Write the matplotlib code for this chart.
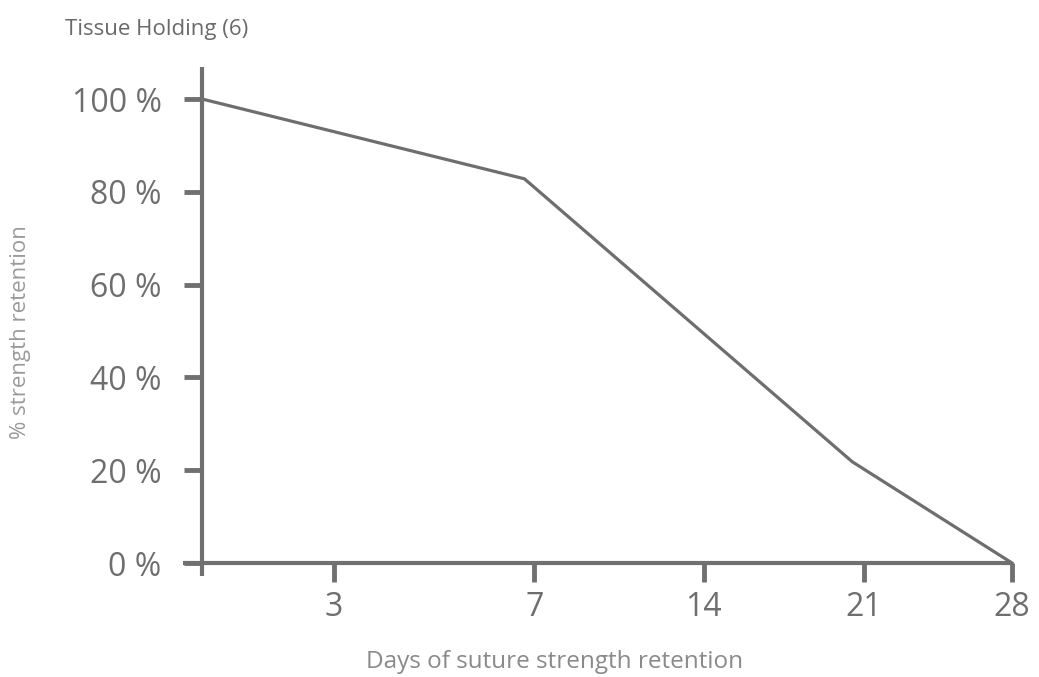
import matplotlib
matplotlib.use("Agg")
import matplotlib.pyplot as plt
import numpy as np

# values
days = [0, 6.8, 20.5, 28]
retention = [100, 82.8, 21.8, 0]
day_ticks = [3, 7, 14, 21, 28]
pct_ticks = [0, 20, 40, 60, 80, 100]

# the day axis is not linear in the original: anchor days -> display position
anchor_days = [-3, 0, 3, 7, 14, 21, 28]
anchor_pos = [70, 202, 334, 534, 703, 863, 1011]


def fwd(x):
    return np.interp(x, anchor_days, anchor_pos)


def inv(p):
    return np.interp(p, anchor_pos, anchor_days)


plt.rcParams['font.family'] = ['Open Sans', 'DejaVu Sans']
axis_col = '#707070'

fig = plt.figure(figsize=(10.39, 6.77), dpi=100)
ax = fig.add_axes([183 / 1039, 1 - 576 / 677, 829 / 1039, 509 / 677])

ax.plot(days, retention, color='#6e6e6e', lw=2.3, solid_joinstyle='miter', clip_on=False)

ax.set_xscale('function', functions=(fwd, inv))
ax.set_xlim(inv(183), 28)
ax.set_ylim(-13 / 4.64, 100 + 32 / 4.64)

for side in ['top', 'right']:
    ax.spines[side].set_visible(False)
ax.spines['left'].set_position(('data', 0))
ax.spines['bottom'].set_position(('data', 0))
for side in ['left', 'bottom']:
    ax.spines[side].set_color(axis_col)
    ax.spines[side].set_linewidth(3.0)
    ax.spines[side].set_capstyle('butt')

ax.set_xticks(day_ticks)
ax.set_xticklabels([str(d) for d in day_ticks])
ax.set_yticks(pct_ticks)
ax.set_yticklabels([f'{p} %' for p in pct_ticks])
ax.xaxis.set_minor_locator(matplotlib.ticker.NullLocator())
ax.tick_params(axis='x', direction='out', length=14, width=3.5, color=axis_col,
               labelsize=23, labelcolor='#6e6e6e', pad=6)
ax.tick_params(axis='y', direction='out', length=13, width=3.5, color=axis_col,
               labelsize=23, labelcolor='#6e6e6e', pad=16)

fig.text(65 / 1039, 1 - 29 / 677, 'Tissue Holding (6)', fontsize=16, color='#6a6a6a',
         ha='left', va='center')
fig.text(21 / 1039, 1 - 332 / 677, '% strength retention', fontsize=16, color='#9a9a9a',
         rotation=90, ha='center', va='center')
fig.text(555 / 1039, 1 - 662 / 677, 'Days of suture strength retention', fontsize=17.5,
         color='#8a8a8a', ha='center', va='center')

fig.savefig('out.png', dpi=100)
